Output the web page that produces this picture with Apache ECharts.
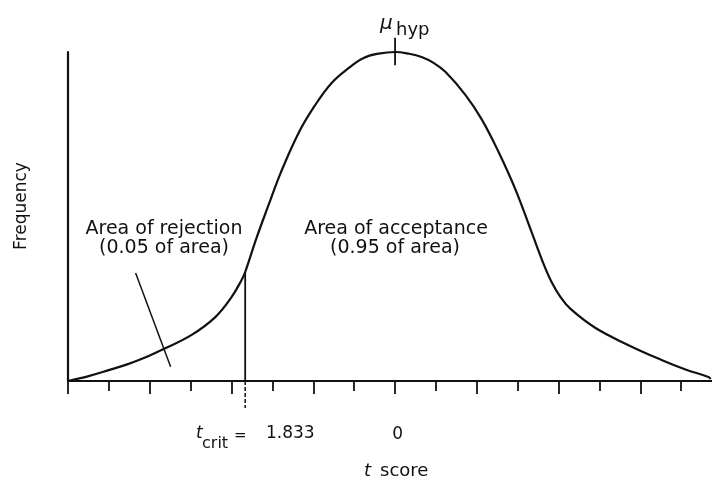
<!DOCTYPE html>
<html>
<head>
<meta charset="utf-8">
<script src="https://cdn.jsdelivr.net/npm/echarts@6/dist/echarts.min.js"></script>
<style>
html,body{margin:0;padding:0;background:#fff;}
#chart{width:712px;height:478px;}
</style>
</head>
<body>
<div id="chart"></div>
<script>
// t-score positions (x) of sampled curve points
const curveT = [-4.0, -3.748, -3.503, -3.259, -3.014, -2.831, -2.488, -2.195, -2.0, -1.877, -1.833, -1.694, -1.547, -1.40, -1.18, -0.984, -0.776, -0.569, -0.385, -0.202, 0, 0.165, 0.324, 0.471, 0.618, 0.862, 1.058, 1.266, 1.474, 1.669, 1.816, 1.914, 2.024, 2.146, 2.452, 2.855, 3.259, 3.552, 3.833, 3.858];
// relative frequency at those points
const curveF = [0.0, 0.015, 0.033, 0.052, 0.076, 0.097, 0.140, 0.195, 0.255, 0.307, 0.331, 0.435, 0.535, 0.632, 0.754, 0.836, 0.906, 0.951, 0.982, 0.995, 1.0, 0.995, 0.985, 0.967, 0.939, 0.869, 0.796, 0.696, 0.581, 0.453, 0.356, 0.301, 0.255, 0.219, 0.161, 0.109, 0.064, 0.035, 0.012, 0.006];
const tCrit = -1.833;
const critF = 0.331;
const critExt = -0.082;
const muT = 0;
const muTick = [0.96, 1.043];
const pointerT = [-3.173, -2.745];
const pointerF = [0.328, 0.043];
const tickLabels = ['0'];

const curve = curveT.map((t, i) => [t, curveF[i]]);
const chart = echarts.init(document.getElementById('chart'));
const FONT = 'DejaVu Sans';
const black = '#111';

chart.setOption({
  animation: false,
  backgroundColor: '#fff',
  grid: {left: 68, top: 52, width: 648, bottom: 97, containLabel: false, outerBoundsMode: 'none'},
  xAxis: {
    type: 'value', min: -4, max: 3.925, interval: 1,
    axisLine: {show: true, onZero: false, lineStyle: {color: black, width: 2.2}},
    axisTick: {show: true, length: 13, lineStyle: {color: black, width: 1.8}},
    minorTick: {show: true, splitNumber: 2, length: 10, lineStyle: {color: black, width: 1.8}},
    splitLine: {show: false},
    axisLabel: {
      margin: 45, fontFamily: FONT, fontSize: 17, color: black, padding: [0, 0, 0, 5],
      formatter: v => (tickLabels.indexOf(String(v)) >= 0 ? String(v) : '')
    }
  },
  yAxis: {
    type: 'value', min: 0, max: 1,
    axisLine: {show: true, onZero: false, lineStyle: {color: black, width: 2.2}},
    axisTick: {show: false}, axisLabel: {show: false}, splitLine: {show: false}
  },
  series: [
    {type: 'line', data: curve, smooth: 0.4, symbol: 'none', clip: false,
     lineStyle: {color: black, width: 2.2}},
    {type: 'line', data: [[tCrit, critF], [tCrit, 0]], symbol: 'none', clip: false,
     lineStyle: {color: black, width: 1.8}},
    {type: 'line', data: [[tCrit, 0], [tCrit, critExt]], symbol: 'none', clip: false,
     lineStyle: {color: black, width: 1.5, type: [4, 2]}},
    {type: 'line', data: [[muT, muTick[0]], [muT, muTick[1]]], symbol: 'none', clip: false,
     lineStyle: {color: black, width: 1.8}},
    {type: 'line', data: [[pointerT[0], pointerF[0]], [pointerT[1], pointerF[1]]], symbol: 'none', clip: false,
     lineStyle: {color: black, width: 1.5}}
  ],
  graphic: [
    {type: 'text', x: 164, y: 229, style: {text: 'Area of rejection', font: '19px "DejaVu Sans"', fill: black, align: 'center', verticalAlign: 'middle'}},
    {type: 'text', x: 164, y: 248, style: {text: '(0.05 of area)', font: '19px "DejaVu Sans"', fill: black, align: 'center', verticalAlign: 'middle'}},
    {type: 'text', x: 396, y: 229, style: {text: 'Area of acceptance', font: '19px "DejaVu Sans"', fill: black, align: 'center', verticalAlign: 'middle'}},
    {type: 'text', x: 395, y: 248, style: {text: '(0.95 of area)', font: '19px "DejaVu Sans"', fill: black, align: 'center', verticalAlign: 'middle'}},
    {type: 'text', x: 380, y: 24, style: {text: 'μ', font: 'italic 20px "DejaVu Sans"', fill: black, align: 'left', verticalAlign: 'middle'}},
    {type: 'text', x: 396, y: 30, style: {text: 'hyp', font: '18px "DejaVu Sans"', fill: black, align: 'left', verticalAlign: 'middle'}},
    {type: 'text', x: 196, y: 434, style: {text: 't', font: 'italic 17px "DejaVu Sans"', fill: black, align: 'left', verticalAlign: 'middle'}},
    {type: 'text', x: 202, y: 444, style: {text: 'crit', font: '16px "DejaVu Sans"', fill: black, align: 'left', verticalAlign: 'middle'}},
    {type: 'text', x: 234, y: 436, style: {text: '=', font: '15px "DejaVu Sans"', fill: black, align: 'left', verticalAlign: 'middle'}},
    {type: 'text', x: 266, y: 434, style: {text: '1.833', font: '17px "DejaVu Sans"', fill: black, align: 'left', verticalAlign: 'middle'}},
    {type: 'text', x: 364, y: 471, style: {text: 't', font: 'italic 18px "DejaVu Sans"', fill: black, align: 'left', verticalAlign: 'middle'}},
    {type: 'text', x: 380, y: 471, style: {text: 'score', font: '18px "DejaVu Sans"', fill: black, align: 'left', verticalAlign: 'middle'}},
    {type: 'text', x: 22, y: 206, rotation: Math.PI / 2, style: {text: 'Frequency', font: '17px "DejaVu Sans"', fill: black, align: 'center', verticalAlign: 'middle'}}
  ]
});
</script>
</body>
</html>
